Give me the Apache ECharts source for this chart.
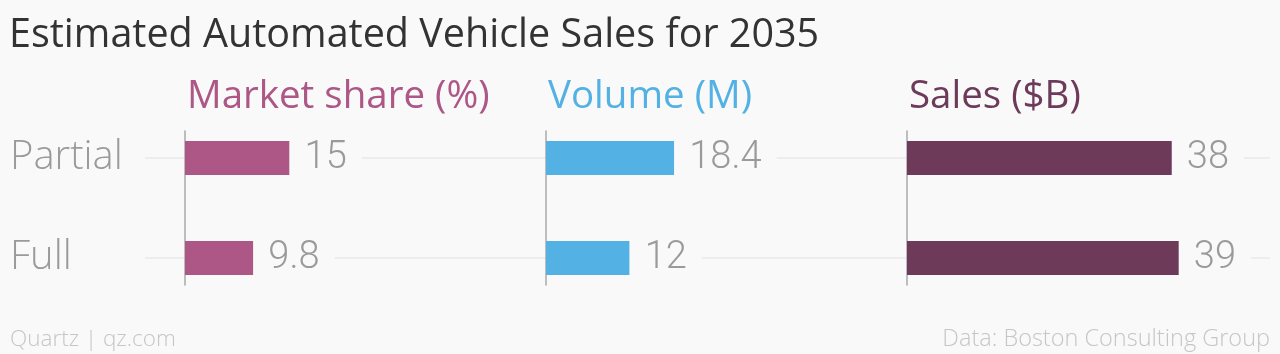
<!DOCTYPE html>
<html><head><meta charset="utf-8">
<script src="https://cdn.jsdelivr.net/npm/echarts@6/dist/echarts.min.js"></script>
<style>html,body{margin:0;padding:0;background:#f9f9f9}#c{width:1280px;height:354px}</style>
</head><body><div id="c"></div>
<script>
const categories = ["Partial", "Full"];
const panelTitles = ["Market share (%)", "Volume (M)", "Sales ($B)"];
const marketShare = [15, 9.8];
const volume = [18.4, 12];
const sales = [38, 39];
const seriesValues = [marketShare, volume, sales];
const colors = ["#ad5786", "#53b1e3", "#6e3a5a"];

const BG = "#f9f9f9";
const FONT = "'Open Sans', Roboto, sans-serif";
const NUMFONT = "Roboto, 'Open Sans', sans-serif";
const panelLeft = [185, 546, 907];
const panelWidth = 300;
const pxPerUnit = 6.97;
const axisMax = panelWidth / pxPerUnit;

const grids = [], xAxes = [], yAxes = [], series = [];
grids.push({left: 145, right: 10, top: 157.5, height: 100});
xAxes.push({type: 'value', gridIndex: 0, show: false});
yAxes.push({type: 'category', gridIndex: 0, data: categories, inverse: true, boundaryGap: false,
  axisLine: {show: false}, axisTick: {show: false},
  splitLine: {show: true, lineStyle: {color: '#e9e9e9', width: 1.5}},
  axisLabel: {show: true, align: 'left', margin: 135, color: '#9a9a9a', fontSize: 40, fontFamily: FONT, fontWeight: 300}});
series.push({type: 'line', xAxisIndex: 0, yAxisIndex: 0, data: [], silent: true});

panelLeft.forEach((left, i) => {
  const ag = grids.length;
  grids.push({left: left, width: panelWidth, top: 131, height: 154});
  xAxes.push({type: 'value', gridIndex: ag, show: false, min: 0, max: axisMax});
  yAxes.push({type: 'category', gridIndex: ag, data: categories, inverse: true,
    axisLine: {show: true, lineStyle: {color: '#a8a8a8', width: 1.5}}, axisTick: {show: false}, axisLabel: {show: false}, splitLine: {show: false}});
  const bg = grids.length;
  grids.push({left: left, width: panelWidth, top: 108, height: 200});
  xAxes.push({type: 'value', gridIndex: bg, show: false, min: 0, max: axisMax});
  yAxes.push({type: 'category', gridIndex: bg, data: categories, inverse: true, show: false});
  series.push({type: 'bar', xAxisIndex: bg, yAxisIndex: bg, data: seriesValues[i], barWidth: 34,
    itemStyle: {color: colors[i]}, silent: true,
    label: {show: true, position: 'right', distance: 0, padding: [0, 15, 0, 15], backgroundColor: BG,
      color: '#9a9a9a', fontSize: 38, fontFamily: NUMFONT, fontWeight: 300}});
});

const titles = [
  {text: "Estimated Automated Vehicle Sales for 2035", left: 9, top: 16, padding: 0,
   textStyle: {color: '#333', fontSize: 39.5, fontWeight: 'normal', fontFamily: FONT}},
  {text: "Quartz | qz.com", left: 10, bottom: 3, padding: 0,
   textStyle: {color: '#c6c6c6', fontSize: 22.5, fontWeight: 300, fontFamily: FONT}},
  {text: "Data: Boston Consulting Group", right: 10, bottom: 3, padding: 0,
   textStyle: {color: '#c6c6c6', fontSize: 23.5, fontWeight: 300, fontFamily: FONT}}
];
panelTitles.forEach((t, i) => titles.push({text: t, left: panelLeft[i] + 2, top: 78, padding: 0,
  textStyle: {color: colors[i], fontSize: 38.5, fontWeight: 'normal', fontFamily: FONT}}));

const chart = echarts.init(document.getElementById('c'), null, {renderer: 'canvas'});
chart.setOption({backgroundColor: BG, animation: false, title: titles, grid: grids, xAxis: xAxes, yAxis: yAxes, series: series});
</script></body></html>
